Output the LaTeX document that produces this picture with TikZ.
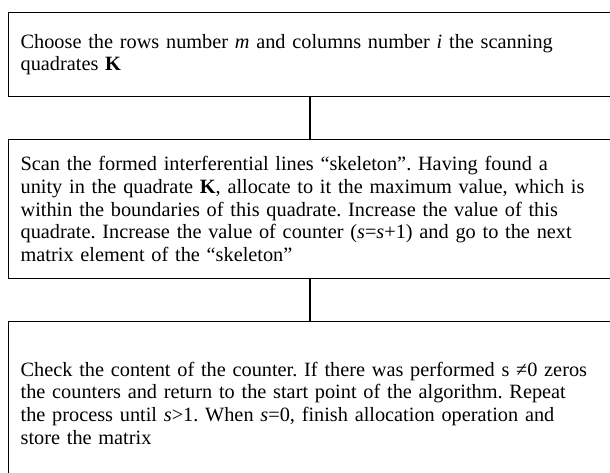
\documentclass[tikz,border=0pt]{standalone}
\usepackage{fontspec}
\setmainfont{Liberation Serif}
\frenchspacing
\begin{document}
\begin{tikzpicture}[x=1bp,y=-1bp,
  stepbox/.style={draw=black,line width=1.3bp,rectangle,anchor=north west,
    inner xsep=12bp,inner ysep=0bp,text width=620bp,align=left,
    font=\fontsize{20.3bp}{22.6bp}\selectfont},
  link/.style={draw=black,line width=1.3bp}]
\useasboundingbox (0,0) rectangle (610,473);
\fill[white] (0,0) rectangle (610,473);
\clip (0,0) rectangle (610,473);
\node[stepbox,minimum height=84bp] (b1) at (8,12)
  {Choose the rows number \textit{m} and columns number \textit{i} the scanning\\quadrates \textbf{K}};
\node[stepbox,minimum height=139bp] (b2) at (8,139)
  {Scan the formed interferential lines “skeleton”. Having found a\\
   unity in the quadrate \textbf{K}, allocate to it the maximum value, which is\\
   within the boundaries of this quadrate. Increase the value of this\\
   quadrate. Increase the value of counter (\textit{s}=\textit{s}+1) and go to the next\\
   matrix element of the “skeleton”};
\node[stepbox,minimum height=163bp] (b3) at (8,321)
  {Check the content of the counter. If there was performed s ≠0 zeros\\
   the counters and return to the start point of the algorithm. Repeat\\
   the process until \textit{s}>1. When \textit{s}=0, finish allocation operation and\\
   store the matrix};
\coordinate (cx) at (310,0);
\draw[link] (b1.south -| cx) -- (b2.north -| cx);
\draw[link] (b2.south -| cx) -- (b3.north -| cx);
\end{tikzpicture}
\end{document}
